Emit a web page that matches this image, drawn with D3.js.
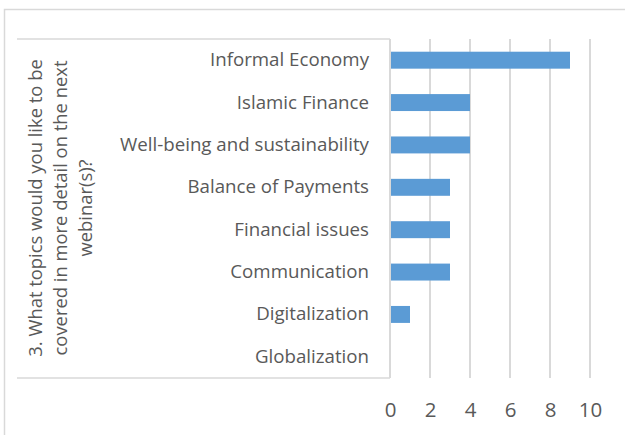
<!DOCTYPE html>
<html>
<head>
<meta charset="utf-8">
<script src="https://cdn.jsdelivr.net/npm/d3@7"></script>
<style>
  html, body { margin: 0; padding: 0; background: #fff; }
  text { font-family: "Open Sans", sans-serif; fill: #595959; }
</style>
</head>
<body>
<div id="plot"></div>
<script>
let categories = ["Informal Economy", "Islamic Finance", "Well-being and sustainability",
    "Balance of Payments", "Financial issues", "Communication", "Digitalization", "Globalization"];
let counts = [9, 4, 4, 3, 3, 3, 1, 0];
let tickValues = [0, 2, 4, 6, 8, 10];
let titleLines = ["3. What topics would you like to be", "covered in more detail on the next", "webinar(s)?"];

let width = 625;
let height = 435;
let plotTop = 39;
let plotBottom = 378;
let plotLeft = 390;
let plotRight = 590;

let svg = d3.select("#plot")
    .append("svg")
    .attr("width", width)
    .attr("height", height);

// outer chart border (runs off the right and bottom edge)
svg.append("rect")
    .attr("x", 4.5)
    .attr("y", 9.5)
    .attr("width", 640)
    .attr("height", 450)
    .style("fill", "none")
    .style("stroke", "#d9d9d9")
    .style("stroke-width", 1.5);

let xScale = d3.scaleLinear()
    .domain([0, 10])
    .range([plotLeft, plotRight]);

let yScale = d3.scaleBand()
    .domain(categories)
    .range([plotTop, plotBottom])
    .paddingInner(0.6)
    .paddingOuter(0.3);

// gridlines
svg.selectAll(".grid")
    .data(tickValues)
    .enter()
    .append("line")
    .attr("x1", d => xScale(d))
    .attr("x2", d => xScale(d))
    .attr("y1", plotTop)
    .attr("y2", plotBottom)
    .style("stroke", "#d9d9d9")
    .style("stroke-width", 2);

// table lines round the category labels
svg.append("line")
    .attr("x1", 17).attr("x2", plotLeft)
    .attr("y1", plotTop).attr("y2", plotTop)
    .style("stroke", "#d9d9d9").style("stroke-width", 1.5);
svg.append("line")
    .attr("x1", 17).attr("x2", plotLeft)
    .attr("y1", plotBottom).attr("y2", plotBottom)
    .style("stroke", "#d9d9d9").style("stroke-width", 1.5);

// bars
categories.forEach(function (cat, i) {
    if (counts[i] <= 0) return;
    svg.append("rect")
        .attr("x", xScale(0) + 1)
        .attr("y", yScale(cat))
        .attr("width", xScale(counts[i]) - xScale(0) - 1)
        .attr("height", yScale.bandwidth())
        .style("fill", "#5b9bd5");
});

let xAxis = d3.axisBottom(xScale)
    .tickValues(tickValues)
    .tickSize(0)
    .tickPadding(0);

let gx = svg.append("g")
    .attr("transform", "translate(0, 417)")
    .call(xAxis);
gx.select(".domain").remove();
gx.selectAll("text")
    .attr("dy", 0)
    .style("font-family", "'Open Sans', sans-serif")
    .style("font-size", "20.5px")
    .style("fill", "#595959");

let yAxis = d3.axisLeft(yScale)
    .tickSize(0)
    .tickPadding(21);

let gy = svg.append("g")
    .attr("transform", "translate(" + plotLeft + ", 0)")
    .call(yAxis);
gy.select(".domain").remove();
gy.selectAll("text")
    .style("font-family", "'Open Sans', sans-serif")
    .style("font-size", "18.7px")
    .style("fill", "#595959");

// vertical category axis line
svg.append("line")
    .attr("x1", plotLeft).attr("x2", plotLeft)
    .attr("y1", plotTop).attr("y2", plotBottom)
    .style("stroke", "#d9d9d9").style("stroke-width", 2);

// rotated axis title
let titleCenter = { x: 42, y: 208 };
let title = svg.append("text")
    .attr("transform", "translate(" + titleCenter.x + "," + titleCenter.y + ") rotate(-90)")
    .style("text-anchor", "middle")
    .style("font-size", "18.4px");
titleLines.forEach(function (line, i) {
    title.append("tspan")
        .attr("x", 0)
        .attr("y", i * 25)
        .text(line);
});
</script>
</body>
</html>
